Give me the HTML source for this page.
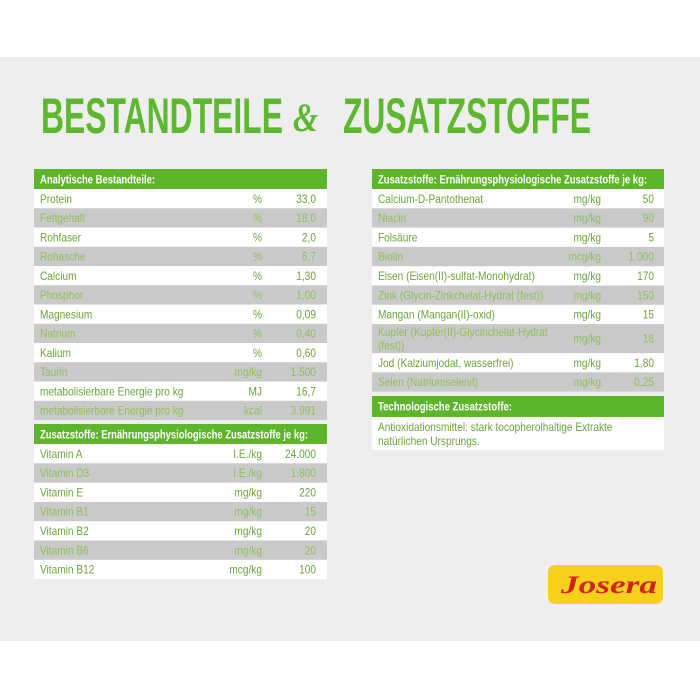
<!DOCTYPE html>
<html><head><meta charset="utf-8"><style>
html,body{margin:0;padding:0;background:#fff;}
svg{display:block;}
.t{font-family:"Liberation Sans",sans-serif;font-size:11.5px;}
.w{fill:#6aa63a;}
.g{fill:#8fc05c;}
.h{font-family:"Liberation Sans",sans-serif;font-size:11.5px;font-weight:bold;fill:#fff;}
</style></head><body>
<svg width="700" height="700" viewBox="0 0 700 700" xmlns="http://www.w3.org/2000/svg">
<rect x="0" y="0" width="700" height="700" fill="#ffffff"/>
<rect x="0" y="57" width="700" height="584" fill="#eeeeee"/>

<!-- Title -->
<g font-family="Liberation Sans, sans-serif" font-weight="bold" fill="#5eb82f">
<text x="41" y="133" font-size="50" textLength="242" lengthAdjust="spacingAndGlyphs">BESTANDTEILE</text>
<text x="293" y="131" font-size="40" font-family="Liberation Serif, serif" font-style="italic" textLength="25" lengthAdjust="spacingAndGlyphs">&amp;</text>
<text x="343" y="133" font-size="50" textLength="248" lengthAdjust="spacingAndGlyphs">ZUSATZSTOFFE</text>
</g>

<!-- Left table 1 -->
<rect x="34" y="169" width="293" height="20" fill="#5db52c"/>
<rect x="34" y="189" width="293" height="231" fill="#ffffff"/>
<rect x="34" y="208.25" width="293" height="19.25" fill="#c9c9c9"/>
<rect x="34" y="246.75" width="293" height="19.25" fill="#c9c9c9"/>
<rect x="34" y="285.25" width="293" height="19.25" fill="#c9c9c9"/>
<rect x="34" y="323.75" width="293" height="19.25" fill="#c9c9c9"/>
<rect x="34" y="362.25" width="293" height="19.25" fill="#c9c9c9"/>
<rect x="34" y="400.75" width="293" height="19.25" fill="#c9c9c9"/>

<!-- Left table 2 -->
<rect x="34" y="424" width="293" height="20" fill="#5db52c"/>
<rect x="34" y="444" width="293" height="135" fill="#ffffff"/>
<rect x="34" y="463.3" width="293" height="19.3" fill="#c9c9c9"/>
<rect x="34" y="501.9" width="293" height="19.3" fill="#c9c9c9"/>
<rect x="34" y="540.5" width="293" height="19.3" fill="#c9c9c9"/>

<!-- Right table -->
<rect x="372" y="169" width="292" height="20" fill="#5db52c"/>
<rect x="372" y="189" width="292" height="202.6" fill="#ffffff"/>
<rect x="372" y="208.3" width="292" height="19.3" fill="#c9c9c9"/>
<rect x="372" y="246.9" width="292" height="19.3" fill="#c9c9c9"/>
<rect x="372" y="285.5" width="292" height="19.3" fill="#c9c9c9"/>
<rect x="372" y="324.1" width="292" height="29" fill="#c9c9c9"/>
<rect x="372" y="372.3" width="292" height="19.3" fill="#c9c9c9"/>
<rect x="372" y="396" width="292" height="21" fill="#5db52c"/>
<rect x="372" y="417" width="292" height="33" fill="#ffffff"/>

<!-- Header texts -->
<text class="h" x="40" y="183.5" textLength="115" lengthAdjust="spacingAndGlyphs">Analytische Bestandteile:</text>
<text class="h" x="40" y="438.5" textLength="268" lengthAdjust="spacingAndGlyphs">Zusatzstoffe: Ernährungsphysiologische Zusatzstoffe je kg:</text>
<text class="h" x="378" y="183.5" textLength="269" lengthAdjust="spacingAndGlyphs">Zusatzstoffe: Ernährungsphysiologische Zusatzstoffe je kg:</text>
<text class="h" x="378" y="410.5" textLength="134" lengthAdjust="spacingAndGlyphs">Technologische Zusatzstoffe:</text>

<g transform="scale(0.88,1)" class="t">
<!-- left table 1 labels -->
<g text-anchor="start">
<text class="w" x="45.45" y="202.8">Protein</text>
<text class="g" x="45.45" y="222">Fettgehalt</text>
<text class="w" x="45.45" y="241.3">Rohfaser</text>
<text class="g" x="45.45" y="260.5">Rohasche</text>
<text class="w" x="45.45" y="279.8">Calcium</text>
<text class="g" x="45.45" y="299">Phosphor</text>
<text class="w" x="45.45" y="318.3">Magnesium</text>
<text class="g" x="45.45" y="337.5">Natrium</text>
<text class="w" x="45.45" y="356.8">Kalium</text>
<text class="g" x="45.45" y="376">Taurin</text>
<text class="w" x="45.45" y="395.3">metabolisierbare Energie pro kg</text>
<text class="g" x="45.45" y="414.5">metabolisierbare Energie pro kg</text>
</g>
<g text-anchor="end">
<text class="w" x="297.7" y="202.8">%</text>
<text class="g" x="297.7" y="222">%</text>
<text class="w" x="297.7" y="241.3">%</text>
<text class="g" x="297.7" y="260.5">%</text>
<text class="w" x="297.7" y="279.8">%</text>
<text class="g" x="297.7" y="299">%</text>
<text class="w" x="297.7" y="318.3">%</text>
<text class="g" x="297.7" y="337.5">%</text>
<text class="w" x="297.7" y="356.8">%</text>
<text class="g" x="297.7" y="376">mg/kg</text>
<text class="w" x="297.7" y="395.3">MJ</text>
<text class="g" x="297.7" y="414.5">kcal</text>
<text class="w" x="359.1" y="202.8">33,0</text>
<text class="g" x="359.1" y="222">18,0</text>
<text class="w" x="359.1" y="241.3">2,0</text>
<text class="g" x="359.1" y="260.5">6,7</text>
<text class="w" x="359.1" y="279.8">1,30</text>
<text class="g" x="359.1" y="299">1,00</text>
<text class="w" x="359.1" y="318.3">0,09</text>
<text class="g" x="359.1" y="337.5">0,40</text>
<text class="w" x="359.1" y="356.8">0,60</text>
<text class="g" x="359.1" y="376">1.500</text>
<text class="w" x="359.1" y="395.3">16,7</text>
<text class="g" x="359.1" y="414.5">3.991</text>
</g>

<!-- left table 2 -->
<g text-anchor="start">
<text class="w" x="45.45" y="457.8">Vitamin A</text>
<text class="g" x="45.45" y="477.1">Vitamin D3</text>
<text class="w" x="45.45" y="496.4">Vitamin E</text>
<text class="g" x="45.45" y="515.7">Vitamin B1</text>
<text class="w" x="45.45" y="535">Vitamin B2</text>
<text class="g" x="45.45" y="554.3">Vitamin B6</text>
<text class="w" x="45.45" y="573.6">Vitamin B12</text>
</g>
<g text-anchor="end">
<text class="w" x="297.7" y="457.8">I.E./kg</text>
<text class="g" x="297.7" y="477.1">I.E./kg</text>
<text class="w" x="297.7" y="496.4">mg/kg</text>
<text class="g" x="297.7" y="515.7">mg/kg</text>
<text class="w" x="297.7" y="535">mg/kg</text>
<text class="g" x="297.7" y="554.3">mg/kg</text>
<text class="w" x="297.7" y="573.6">mcg/kg</text>
<text class="w" x="359.1" y="457.8">24.000</text>
<text class="g" x="359.1" y="477.1">1.800</text>
<text class="w" x="359.1" y="496.4">220</text>
<text class="g" x="359.1" y="515.7">15</text>
<text class="w" x="359.1" y="535">20</text>
<text class="g" x="359.1" y="554.3">20</text>
<text class="w" x="359.1" y="573.6">100</text>
</g>

<!-- right table -->
<g text-anchor="start">
<text class="w" x="429.5" y="202.8">Calcium-D-Pantothenat</text>
<text class="g" x="429.5" y="222.1">Niacin</text>
<text class="w" x="429.5" y="241.4">Folsäure</text>
<text class="g" x="429.5" y="260.7">Biotin</text>
<text class="w" x="429.5" y="280">Eisen (Eisen(II)-sulfat-Monohydrat)</text>
<text class="g" x="429.5" y="299.3">Zink (Glycin-Zinkchelat-Hydrat (fest))</text>
<text class="w" x="429.5" y="318.6">Mangan (Mangan(II)-oxid)</text>
<text class="g" x="429.5" y="336">Kupfer (Kupfer(II)-Glycinchelat-Hydrat</text>
<text class="g" x="429.5" y="349.5">(fest))</text>
<text class="w" x="429.5" y="366.8">Jod (Kalziumjodat, wasserfrei)</text>
<text class="g" x="429.5" y="386.1">Selen (Natriumselenit)</text>
<text class="w" x="429.5" y="431">Antioxidationsmittel: stark tocopherolhaltige Extrakte</text>
<text class="w" x="429.5" y="445">natürlichen Ursprungs.</text>
</g>
<g text-anchor="end">
<text class="w" x="683" y="202.8">mg/kg</text>
<text class="g" x="683" y="222.1">mg/kg</text>
<text class="w" x="683" y="241.4">mg/kg</text>
<text class="g" x="683" y="260.7">mcg/kg</text>
<text class="w" x="683" y="280">mg/kg</text>
<text class="g" x="683" y="299.3">mg/kg</text>
<text class="w" x="683" y="318.6">mg/kg</text>
<text class="g" x="683" y="342.7">mg/kg</text>
<text class="w" x="683" y="366.8">mg/kg</text>
<text class="g" x="683" y="386.1">mg/kg</text>
<text class="w" x="743.2" y="202.8">50</text>
<text class="g" x="743.2" y="222.1">90</text>
<text class="w" x="743.2" y="241.4">5</text>
<text class="g" x="743.2" y="260.7">1.000</text>
<text class="w" x="743.2" y="280">170</text>
<text class="g" x="743.2" y="299.3">150</text>
<text class="w" x="743.2" y="318.6">15</text>
<text class="g" x="743.2" y="342.7">18</text>
<text class="w" x="743.2" y="366.8">1,80</text>
<text class="g" x="743.2" y="386.1">0,25</text>
</g>
</g>

<!-- Logo -->
<path d="M556 565 L655 565 Q663 565 663 573 L663 596 Q663 604 655 604 L556 604 Q548 604 548 596 L548 573 Q548 565 556 565 Z" fill="#f6d01a"/>
<text x="561" y="593" font-family="Liberation Serif, serif" font-style="italic" font-weight="bold" font-size="25" fill="#d32222" textLength="96" lengthAdjust="spacingAndGlyphs">Josera</text>
</svg>
</body></html>
